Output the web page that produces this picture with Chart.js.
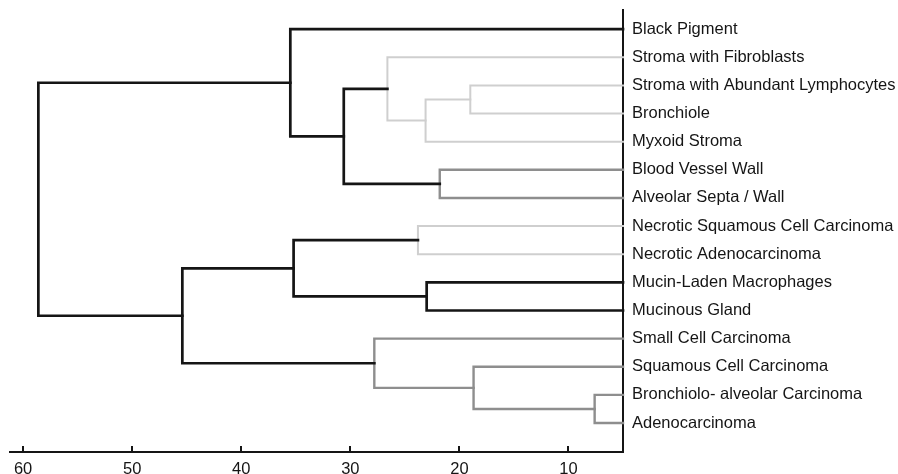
<!DOCTYPE html>
<html>
<head>
<meta charset="utf-8">
<script src="https://cdn.jsdelivr.net/npm/chart.js@4.4.1/dist/chart.umd.min.js"></script>
<style>
  html, body { margin: 0; padding: 0; background: #fff; }
  #wrap { width: 898px; height: 474px; }
</style>
</head>
<body>
<div id="wrap"><canvas id="dendro" width="898" height="474"></canvas></div>
<script>
// leaves, top to bottom
const leafLabels = [
  'Black Pigment',
  'Stroma with Fibroblasts',
  'Stroma with Abundant Lymphocytes',
  'Bronchiole',
  'Myxoid Stroma',
  'Blood Vessel Wall',
  'Alveolar Septa / Wall',
  'Necrotic Squamous Cell Carcinoma',
  'Necrotic Adenocarcinoma',
  'Mucin-Laden Macrophages',
  'Mucinous Gland',
  'Small Cell Carcinoma',
  'Squamous Cell Carcinoma',
  'Bronchiolo- alveolar Carcinoma',
  'Adenocarcinoma'
];

// merges bottom-up: ids 0-14 are leaves, merge k gets id 15 + k
const mergeLeft   = [13, 12, 2, 5, 9, 17, 7, 1, 11, 22, 21, 0, 25, 26];
const mergeRight  = [14, 15, 3, 6, 10, 4, 8, 20, 16, 18, 19, 24, 23, 27];
const mergeHeight = [7.6, 18.7, 19.0, 21.8, 23.0, 23.1, 23.8, 26.6, 27.8, 30.6, 35.2, 35.5, 45.4, 58.6];
const mergeShade  = ['mid', 'mid', 'light', 'mid', 'dark', 'light', 'light', 'light', 'mid', 'dark', 'dark', 'dark', 'dark', 'dark'];

const xTicks = [10, 20, 30, 40, 50, 60];
const xMin = 5;
const xMax = 61.2;

const SHADES = { dark: '#151515', mid: '#8e8e8e', light: '#cfcfcf' };
const WIDTHS = { dark: 2.7, mid: 2.4, light: 2 };
const FONT = "'Liberation Sans', Arial, sans-serif";

// leaf rows and node positions
const nodeY = leafLabels.map((_, i) => i);
const nodeH = leafLabels.map(() => xMin);
mergeHeight.forEach((h, k) => {
  nodeY.push((nodeY[mergeLeft[k]] + nodeY[mergeRight[k]]) / 2);
  nodeH.push(h);
});

// one U-shaped link per merge
const datasets = mergeHeight.map((h, k) => {
  const a = mergeLeft[k], b = mergeRight[k];
  return {
    data: [
      { x: nodeH[a], y: nodeY[a] },
      { x: h, y: nodeY[a] },
      { x: h, y: nodeY[b] },
      { x: nodeH[b], y: nodeY[b] }
    ],
    borderColor: SHADES[mergeShade[k]],
    borderWidth: WIDTHS[mergeShade[k]],
    borderCapStyle: 'square',
    borderJoinStyle: 'miter',
    pointRadius: 0,
    tension: 0,
    fill: false,
    clip: false,
    order: mergeShade[k] === 'dark' ? 0 : 1
  };
});

// small tick marks pointing up from the distance axis
const upTicks = {
  id: 'upTicks',
  afterDraw(chart) {
    const x = chart.scales.x;
    const ctx = chart.ctx;
    ctx.save();
    ctx.strokeStyle = '#151515';
    ctx.lineWidth = 2;
    x.ticks.forEach(t => {
      const px = Math.round(x.getPixelForValue(t.value));
      ctx.beginPath();
      ctx.moveTo(px, x.top);
      ctx.lineTo(px, x.top - 6);
      ctx.stroke();
    });
    ctx.restore();
  }
};

new Chart(document.getElementById('dendro').getContext('2d'), {
  type: 'line',
  data: { datasets: datasets },
  options: {
    responsive: false,
    animation: false,
    events: [],
    layout: { padding: { left: 10, top: 10, right: 0, bottom: 0 } },
    plugins: { legend: { display: false }, tooltip: { enabled: false } },
    scales: {
      x: {
        type: 'linear',
        position: 'bottom',
        reverse: true,
        min: xMin,
        max: xMax,
        grid: { display: false, drawTicks: false },
        border: { display: true, color: '#151515', width: 2 },
        afterBuildTicks: (axis) => { axis.ticks = xTicks.map(v => ({ value: v })); },
        afterFit: (axis) => { axis.height = 22; axis.paddingLeft = 0; axis.paddingRight = 0; },
        ticks: {
          autoSkip: false,
          maxRotation: 0,
          padding: 8,
          color: '#151515',
          font: { family: FONT, size: 16.5 }
        }
      },
      y: {
        type: 'linear',
        position: 'right',
        reverse: true,
        min: -0.68,
        max: 15.03,
        grid: { display: false, drawTicks: false },
        border: { display: true, color: '#151515', width: 2 },
        afterBuildTicks: (axis) => { axis.ticks = leafLabels.map((_, i) => ({ value: i })); },
        afterFit: (axis) => { axis.width = 275; axis.paddingTop = 0; axis.paddingBottom = 0; },
        ticks: {
          autoSkip: false,
          padding: 9,
          color: '#151515',
          font: { family: FONT, size: 16.5 },
          callback: (v) => leafLabels[v]
        }
      }
    }
  },
  plugins: [upTicks]
});
</script>
</body>
</html>
